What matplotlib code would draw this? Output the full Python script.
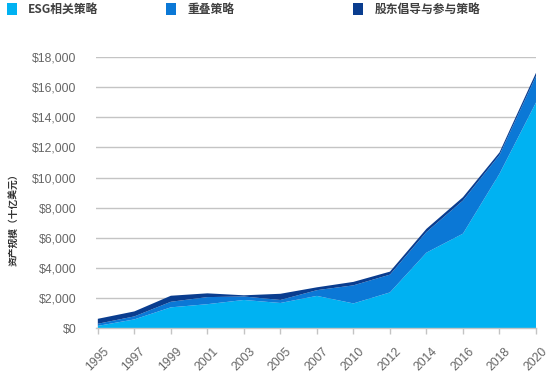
import matplotlib
matplotlib.use("Agg")
import matplotlib.pyplot as plt
from matplotlib.patches import Rectangle
from matplotlib.ticker import FuncFormatter
import matplotlib.transforms as mtransforms
import numpy as np

years = ["1995", "1997", "1999", "2001", "2003", "2005", "2007",
         "2010", "2012", "2014", "2016", "2018", "2020"]
esg = [160, 590, 1390, 1600, 1880, 1680, 2150, 1650, 2380, 5020, 6280, 10250, 14980]
overlap = [140, 200, 370, 470, 230, 200, 380, 1200, 1180, 1370, 2200, 1250, 1760]
advocacy = [330, 330, 400, 250, 80, 410, 190, 230, 200, 210, 220, 170, 210]
series_names = ["ESG相关策略", "重叠策略", "股东倡导与参与策略"]
colors = ["#00B2F2", "#0B78D6", "#0A3D8F"]
yticks = list(range(0, 18001, 2000))

W, H = 550, 374
fig = plt.figure(figsize=(W / 100, H / 100), dpi=100)
ax = fig.add_axes([96 / W, (H - 328.3) / H, (536 - 96) / W, (328.3 - 57) / H])

x = np.arange(len(years))
ax.stackplot(x, esg, overlap, advocacy, colors=colors, linewidth=0, zorder=3)

ax.set_xlim(-0.05, len(years) - 1)
ax.set_ylim(0, 18000)
ax.set_yticks(yticks)
ax.yaxis.set_major_formatter(FuncFormatter(lambda v, p: "${:,.0f}".format(v)))
ax.grid(axis="y", color="#c4c4c4", linewidth=1.0, zorder=1)
ax.set_axisbelow(True)
for s in ["left", "right", "top"]:
    ax.spines[s].set_visible(False)
ax.spines["bottom"].set_color("#c4c4c4")
ax.spines["bottom"].set_linewidth(1.0)
ax.spines["bottom"].set_zorder(4)

tick_font = ["Liberation Sans", "DejaVu Sans"]
ax.tick_params(axis="y", length=0, pad=14, labelsize=8.8, labelcolor="#666666")
ax.tick_params(axis="x", length=4, width=1, color="#c4c4c4", pad=2,
               labelsize=8.8, labelcolor="#666666")
ax.set_xticks(x)
ax.set_xticklabels(years, rotation=45, ha="right", va="top", rotation_mode="anchor")
offset = mtransforms.ScaledTranslation(5 / 100, -9 / 100, fig.dpi_scale_trans)
for lab in ax.get_xticklabels():
    lab.set_fontfamily(tick_font)
    lab.set_transform(lab.get_transform() + offset)
for lab in ax.get_yticklabels():
    lab.set_fontfamily(tick_font)

cjk = ["Noto Sans CJK SC", "DejaVu Sans"]
fig.text(13 / W, (H - 217) / H, "资产规模（十亿美元）", rotation=90, ha="center",
         va="center", fontsize=7, fontweight="bold", color="#333333", family=cjk)

# legend
leg_x = [7, 166, 353]
txt_x = [28, 187, 375]
for i in range(3):
    fig.add_artist(Rectangle((leg_x[i] / W, (H - 15) / H), 10 / W, 12 / H,
                             transform=fig.transFigure, facecolor=colors[i],
                             edgecolor="none"))
    fig.text(txt_x[i] / W, (H - 9.5) / H, series_names[i], ha="left", va="center",
             fontsize=8.5, fontweight="bold", color="#404040", family=cjk)

fig.savefig("out.png", dpi=100)
